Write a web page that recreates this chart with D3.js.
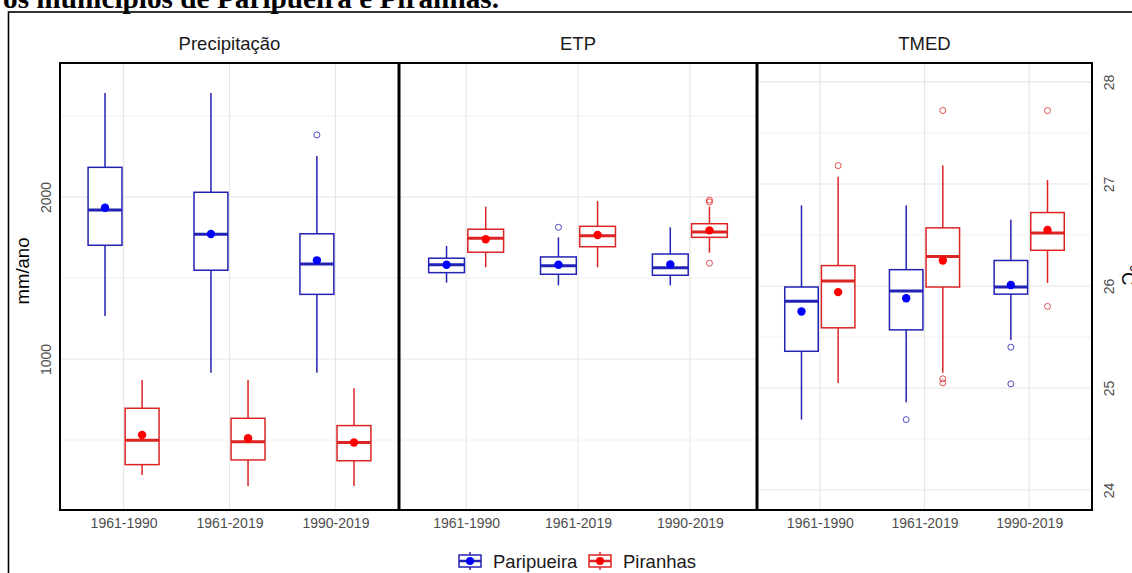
<!DOCTYPE html>
<html>
<head>
<meta charset="utf-8">
<script src="https://cdn.jsdelivr.net/npm/d3@7"></script>
<style>
  body { margin: 0; background: #fff; }
  svg { display: block; }
</style>
</head>
<body>
<div id="chart"></div>
<script>
// categories
var periods = ["1961-1990", "1961-2019", "1990-2019"];
var groups = ["Paripueira", "Piranhas"];

// box stats per period: [lower whisker, q1, median, q3, upper whisker]
var precipParipueira = [[1265, 1702, 1920, 2183, 2642], [915, 1548, 1770, 2029, 2642], [915, 1399, 1586, 1773, 2253]];
var precipParipueiraMean = [1934, 1772, 1609];
var precipParipueiraOut = [[], [], [2383]];
var precipPiranhas = [[284, 348, 498, 696, 870], [216, 377, 489, 634, 870], [216, 372, 485, 589, 819]];
var precipPiranhasMean = [531, 511, 485];
var precipPiranhasOut = [[], [], []];

var etpParipueira = [[1471, 1533, 1582, 1622, 1698], [1455, 1523, 1576, 1630, 1751], [1455, 1517, 1564, 1648, 1813]];
var etpParipueiraMean = [1582, 1582, 1584];
var etpParipueiraOut = [[], [1813], []];
var etpPiranhas = [[1566, 1659, 1745, 1801, 1940], [1566, 1693, 1761, 1819, 1975], [1656, 1751, 1784, 1835, 1940]];
var etpPiranhasMean = [1739, 1765, 1794];
var etpPiranhasOut = [[], [], [1591, 1969, 1981]];

var tmedParipueira = [[24.69, 25.36, 25.85, 25.99, 26.79], [24.86, 25.57, 25.95, 26.16, 26.79], [25.47, 25.92, 25.99, 26.25, 26.65]];
var tmedParipueiraMean = [25.75, 25.88, 26.01];
var tmedParipueiraOut = [[], [24.69], [25.40, 25.04]];
var tmedPiranhas = [[25.05, 25.59, 26.05, 26.20, 27.07], [25.15, 25.99, 26.29, 26.57, 27.18], [26.03, 26.35, 26.52, 26.72, 27.04]];
var tmedPiranhasMean = [25.94, 26.25, 26.55];
var tmedPiranhasOut = [[27.18], [27.72, 25.09, 25.05], [27.72, 25.80]];

// tick values
var mmMajor = [1000, 2000];
var mmMinor = [500, 1500, 2500];
var tempMajor = [24, 25, 26, 27, 28];
var tempMinor = [24.5, 25.5, 26.5, 27.5];

var W = 1132, H = 573;
var plotTop = 63, plotBottom = 510;
var lineColor = { Paripueira: "#2222b4", Piranhas: "#dc2424" };
var dotColor = { Paripueira: "#0000ff", Piranhas: "#ff0000" };
var font = "'Liberation Sans', Arial, sans-serif";

var svg = d3.select("#chart").append("svg")
  .attr("width", W).attr("height", H);

// cropped document title + frame
svg.append("text")
  .attr("x", 3).attr("y", 8)
  .attr("font-family", "'Liberation Serif', 'Times New Roman', serif")
  .attr("font-weight", "bold")
  .attr("font-size", 28)
  .attr("textLength", 496)
  .attr("lengthAdjust", "spacingAndGlyphs")
  .attr("fill", "#000")
  .text("os municípios de Paripueira e Piranhas.");
svg.append("rect")
  .attr("x", 8.5).attr("y", 12).attr("width", W + 20).attr("height", H + 20)
  .attr("fill", "none").attr("stroke", "#000").attr("stroke-width", 1.6);

var yMM = d3.scaleLinear().domain([68, 2827]).range([plotBottom, plotTop]);
var yTemp = d3.scaleLinear().domain([23.804, 28.186]).range([plotBottom, plotTop]);

var panels = [
  { title: "Precipitação", x0: 60, x1: 399, y: yMM, major: mmMajor, minor: mmMinor,
    sets: { Paripueira: [precipParipueira, precipParipueiraMean, precipParipueiraOut],
            Piranhas: [precipPiranhas, precipPiranhasMean, precipPiranhasOut] } },
  { title: "ETP", x0: 399, x1: 757, y: yMM, major: mmMajor, minor: mmMinor,
    sets: { Paripueira: [etpParipueira, etpParipueiraMean, etpParipueiraOut],
            Piranhas: [etpPiranhas, etpPiranhasMean, etpPiranhasOut] } },
  { title: "TMED", x0: 757, x1: 1092, y: yTemp, major: tempMajor, minor: tempMinor,
    sets: { Paripueira: [tmedParipueira, tmedParipueiraMean, tmedParipueiraOut],
            Piranhas: [tmedPiranhas, tmedPiranhasMean, tmedPiranhasOut] } }
];

panels.forEach(function(p) {
  var x = d3.scalePoint().domain(periods).range([p.x0, p.x1]).padding(0.6);
  var step = x.step();
  var dodge = d3.scalePoint().domain(groups).range([-0.175 * step, 0.175 * step]);
  var bw = 0.32 * step;
  var g = svg.append("g");

  // grid
  g.selectAll(".minor").data(p.minor).enter().append("line")
    .attr("x1", p.x0).attr("x2", p.x1)
    .attr("y1", d => p.y(d)).attr("y2", d => p.y(d))
    .attr("stroke", "#f0f0f0").attr("stroke-width", 1);
  g.selectAll(".major").data(p.major).enter().append("line")
    .attr("x1", p.x0).attr("x2", p.x1)
    .attr("y1", d => p.y(d)).attr("y2", d => p.y(d))
    .attr("stroke", "#e6e6e6").attr("stroke-width", 1.2);
  g.selectAll(".vgrid").data(periods).enter().append("line")
    .attr("x1", d => x(d)).attr("x2", d => x(d))
    .attr("y1", plotTop).attr("y2", plotBottom)
    .attr("stroke", "#e6e6e6").attr("stroke-width", 1.2);

  // boxes
  groups.forEach(function(grp) {
    var stats = p.sets[grp][0], means = p.sets[grp][1], outs = p.sets[grp][2];
    var col = lineColor[grp];
    var bg = g.append("g");
    periods.forEach(function(per, i) {
      var s = stats[i];
      var cx = x(per) + dodge(grp);
      bg.append("line").attr("x1", cx).attr("x2", cx)
        .attr("y1", p.y(s[4])).attr("y2", p.y(s[3]))
        .attr("stroke", col).attr("stroke-width", 1.5);
      bg.append("line").attr("x1", cx).attr("x2", cx)
        .attr("y1", p.y(s[1])).attr("y2", p.y(s[0]))
        .attr("stroke", col).attr("stroke-width", 1.5);
      bg.append("rect")
        .attr("x", cx - bw / 2).attr("width", bw)
        .attr("y", p.y(s[3])).attr("height", p.y(s[1]) - p.y(s[3]))
        .attr("fill", "#fff").attr("stroke", col).attr("stroke-width", 1.5);
      bg.append("line").attr("x1", cx - bw / 2).attr("x2", cx + bw / 2)
        .attr("y1", p.y(s[2])).attr("y2", p.y(s[2]))
        .attr("stroke", col).attr("stroke-width", 3);
      bg.selectAll(null).data(outs[i]).enter().append("circle")
        .attr("cx", cx).attr("cy", d => p.y(d)).attr("r", 3)
        .attr("fill", "none").attr("stroke", col).attr("stroke-width", 1).attr("opacity", 0.8);
      bg.append("circle")
        .attr("cx", cx).attr("cy", p.y(means[i])).attr("r", 4.2)
        .attr("fill", dotColor[grp]);
    });
  });

  // frame
  g.append("rect")
    .attr("x", p.x0).attr("y", plotTop).attr("width", p.x1 - p.x0).attr("height", plotBottom - plotTop)
    .attr("fill", "none").attr("stroke", "#000").attr("stroke-width", 2);

  // strip title
  g.append("text")
    .attr("x", (p.x0 + p.x1) / 2).attr("y", 50)
    .attr("text-anchor", "middle")
    .attr("font-family", font).attr("font-size", 18.5).attr("fill", "#1a1a1a")
    .text(p.title);

  // x axis
  var xa = g.append("g").attr("transform", "translate(0," + plotBottom + ")")
    .call(d3.axisBottom(x).tickSize(0).tickPadding(8));
  xa.select(".domain").remove();
  xa.selectAll("text").attr("font-family", font).attr("font-size", 14).attr("fill", "#4d4d4d");
});

// panel separators
svg.selectAll(".sep").data([399, 757]).enter().append("line")
  .attr("x1", d => d).attr("x2", d => d).attr("y1", plotTop).attr("y2", plotBottom)
  .attr("stroke", "#000").attr("stroke-width", 3);

// left axis (mm/ano)
var ya = svg.append("g").attr("transform", "translate(60,0)")
  .call(d3.axisLeft(yMM).tickValues(mmMajor).tickFormat(d3.format("d")).tickSize(0).tickPadding(0));
ya.select(".domain").remove();
ya.selectAll("text")
  .attr("font-family", font).attr("font-size", 14).attr("fill", "#4d4d4d")
  .attr("text-anchor", "middle").attr("dy", 0).attr("x", 0)
  .attr("transform", "translate(-9,0) rotate(-90)");
svg.append("text")
  .attr("transform", "translate(29,271) rotate(-90)")
  .attr("text-anchor", "middle")
  .attr("font-family", font).attr("font-size", 18.5).attr("fill", "#000")
  .text("mm/ano");

// right axis (°C)
var yr = svg.append("g").attr("transform", "translate(1092,0)")
  .call(d3.axisRight(yTemp).tickValues(tempMajor).tickFormat(d3.format("d")).tickSize(0).tickPadding(0));
yr.select(".domain").remove();
yr.selectAll("text")
  .attr("font-family", font).attr("font-size", 14).attr("fill", "#4d4d4d")
  .attr("text-anchor", "middle").attr("dy", 0).attr("x", 0)
  .attr("transform", "translate(22,0) rotate(-90)");
svg.append("text")
  .attr("transform", "translate(1122,275) rotate(90)")
  .attr("text-anchor", "middle")
  .attr("font-family", font).attr("font-size", 18.5).attr("fill", "#000")
  .text("°C");

// legend
var legX = { Paripueira: 470, Piranhas: 600 };
var legY = 561;
groups.forEach(function(grp) {
  var lg = svg.append("g").attr("transform", "translate(" + legX[grp] + "," + legY + ")");
  var col = lineColor[grp];
  lg.append("line").attr("x1", 0).attr("x2", 0).attr("y1", -9).attr("y2", 9)
    .attr("stroke", col).attr("stroke-width", 1.5);
  lg.append("rect").attr("x", -11).attr("y", -6).attr("width", 22).attr("height", 12)
    .attr("fill", "#fff").attr("stroke", col).attr("stroke-width", 1.5);
  lg.append("line").attr("x1", -11).attr("x2", 11).attr("y1", 0).attr("y2", 0)
    .attr("stroke", col).attr("stroke-width", 2.5);
  lg.append("circle").attr("r", 4).attr("fill", dotColor[grp]);
  lg.append("text").attr("x", 23).attr("y", 6.5)
    .attr("font-family", font).attr("font-size", 18.5).attr("fill", "#1a1a1a")
    .text(grp);
});
</script>
</body>
</html>
